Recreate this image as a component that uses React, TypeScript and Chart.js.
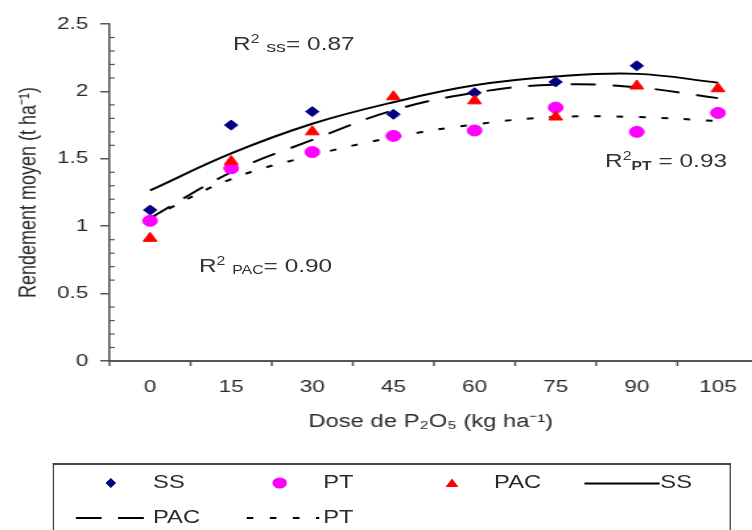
import React, { useEffect, useRef } from 'react';
import { Chart, registerables } from 'chart.js';

Chart.register(...registerables);

// ---- data ----
const DOSES = [0, 15, 30, 45, 60, 75, 90, 105];
const SS_OBS = [1.12, 1.75, 1.85, 1.83, 1.99, 2.07, 2.19, null];
const PT_OBS = [1.04, 1.43, 1.55, 1.67, 1.71, 1.88, 1.7, 1.84];
const PAC_OBS = [0.91, 1.48, 1.7, 1.96, 1.93, 1.81, 2.04, 2.02];
const SS_FIT = [1.265, 1.54, 1.76, 1.92, 2.045, 2.11, 2.13, 2.065];
const PAC_FIT = [1.06, 1.4, 1.64, 1.86, 1.99, 2.05, 2.03, 1.95];
const PT_FIT = [1.06, 1.35, 1.525, 1.66, 1.755, 1.81, 1.81, 1.78];
const X_TICKS = [0, 15, 30, 45, 60, 75, 90, 105];
const X_BOUNDS = [-7.5, 7.5, 22.5, 37.5, 52.5, 67.5, 82.5, 97.5];
const Y_TICKS = [0, 0.5, 1, 1.5, 2, 2.5];
const Y_MINOR = [0.1, 0.2, 0.3, 0.4, 0.6, 0.7, 0.8, 0.9, 1.1, 1.2, 1.3, 1.4, 1.6, 1.7, 1.8, 1.9, 2.1, 2.2, 2.3, 2.4];

const X_MIN = -7.5;
const X_MAX = 111.3;
const Y_MIN = 0;
const Y_MAX = 2.5;

// ---- layout/style ----
const INNER_W = 570;
const OUTER_W = 752;
const SX = OUTER_W / INNER_W;
const CANVAS_H = 455;
const FONT = '"Liberation Sans", Arial, sans-serif';
const AXIS = '#555';
const TEXT = '#2a2a2a';
const NAVY = '#000080';
const MAGENTA = '#FF00FF';
const RED = '#FF0000';

const pts = (vals: (number | null)[]) => DOSES.map((d, i) => ({ x: d, y: vals[i] }));

const extraTicks = {
  id: 'extraTicks',
  afterDraw(chart: any) {
    const { ctx, chartArea } = chart;
    const x = chart.scales.x;
    const y = chart.scales.y;
    ctx.save();
    ctx.strokeStyle = AXIS;
    ctx.lineWidth = 1.2;
    Y_MINOR.forEach((v) => {
      const py = y.getPixelForValue(v);
      ctx.beginPath();
      ctx.moveTo(chartArea.left, py);
      ctx.lineTo(chartArea.left + 4, py);
      ctx.stroke();
    });
    ctx.lineWidth = 1.5;
    X_BOUNDS.forEach((v) => {
      const px = x.getPixelForValue(v);
      ctx.beginPath();
      ctx.moveTo(px, chartArea.bottom);
      ctx.lineTo(px, chartArea.bottom + 5);
      ctx.stroke();
    });
    ctx.restore();
  },
};

function ChartCanvas() {
  const ref = useRef<HTMLCanvasElement | null>(null);
  useEffect(() => {
    if (!ref.current) return;
    const chart = new Chart(ref.current, {
      type: 'line',
      data: {
        datasets: [
          {
            label: 'PAC',
            data: pts(PAC_OBS),
            showLine: false,
            pointStyle: 'triangle',
            pointRadius: 6,
            pointBackgroundColor: RED,
            pointBorderColor: RED,
            pointBorderWidth: 1,
            order: 0,
          },
          {
            label: 'PT',
            data: pts(PT_OBS),
            showLine: false,
            pointStyle: 'circle',
            pointRadius: 5.5,
            pointBackgroundColor: MAGENTA,
            pointBorderColor: MAGENTA,
            pointBorderWidth: 1,
            order: 1,
          },
          {
            label: 'SS',
            data: pts(SS_OBS),
            showLine: false,
            pointStyle: 'rectRot',
            pointRadius: 5,
            pointBackgroundColor: NAVY,
            pointBorderColor: NAVY,
            pointBorderWidth: 1,
            order: 2,
          },
          {
            label: 'SS fit',
            data: pts(SS_FIT),
            borderColor: '#000',
            borderWidth: 2,
            pointRadius: 0,
            tension: 0.4,
            fill: false,
            order: 3,
          },
          {
            label: 'PAC fit',
            data: pts(PAC_FIT),
            borderColor: '#000',
            borderWidth: 2,
            borderDash: [19, 13],
            pointRadius: 0,
            tension: 0.4,
            fill: false,
            order: 4,
          },
          {
            label: 'PT fit',
            data: pts(PT_FIT),
            borderColor: '#000',
            borderWidth: 2,
            borderDash: [5, 12],
            pointRadius: 0,
            tension: 0.4,
            fill: false,
            order: 5,
          },
        ],
      },
      options: {
        responsive: false,
        animation: false,
        layout: { autoPadding: false, padding: { left: 0, right: 0, top: 24, bottom: 0 } },
        plugins: { legend: { display: false }, tooltip: { enabled: false } },
        scales: {
          x: {
            type: 'linear',
            min: X_MIN,
            max: X_MAX,
            afterBuildTicks: (s: any) => {
              s.ticks = X_TICKS.map((v) => ({ value: v }));
            },
            afterFit: (s: any) => {
              s.height = CANVAS_H - 361;
              s.paddingLeft = 0;
              s.paddingRight = 0;
            },
            grid: { drawOnChartArea: false, drawTicks: false, color: AXIS },
            border: { display: true, color: AXIS, width: 2 },
            ticks: {
              padding: 16,
              maxRotation: 0,
              autoSkip: false,
              color: TEXT,
              font: { family: FONT, size: 17 },
              callback: (v: any) => String(v),
            },
            title: {
              display: true,
              text: 'Dose de P₂O₅ (kg ha⁻¹)',
              color: TEXT,
              font: { family: FONT, size: 18 },
              padding: { top: 0, bottom: 22 },
            },
          },
          y: {
            type: 'linear',
            min: Y_MIN,
            max: Y_MAX,
            afterBuildTicks: (s: any) => {
              s.ticks = Y_TICKS.map((v) => ({ value: v }));
            },
            afterFit: (s: any) => {
              s.width = 83;
            },
            grid: { drawOnChartArea: false, drawTicks: true, tickLength: 7, color: AXIS, lineWidth: 1.5 },
            border: { display: true, color: AXIS, width: 1.6 },
            ticks: {
              padding: 9,
              color: TEXT,
              font: { family: FONT, size: 17 },
              callback: (v: any) => String(v),
            },
            title: {
              display: true,
              text: 'Rendement moyen (t ha⁻¹)',
              color: TEXT,
              font: { family: FONT, size: 18 },
              padding: { top: 11, bottom: 0 },
            },
          },
        },
      },
      plugins: [extraTicks],
    } as any);
    return () => chart.destroy();
  }, []);
  return <canvas ref={ref} width={INNER_W} height={CANVAS_H} style={{ display: 'block' }} />;
}

const abs = (left: number, top: number, extra: any = {}) => ({ position: 'absolute' as const, left, top, ...extra });

function Annot({ left, top, children }: { left: number; top: number; children: any }) {
  return (
    <div style={abs(left, top, { fontFamily: FONT, fontSize: 18.5, lineHeight: '19px', color: '#333', whiteSpace: 'nowrap' })}>
      {children}
    </div>
  );
}

const supStyle = { fontSize: 12, position: 'relative' as const, top: -7 };

function Legend() {
  const textStyle = { fontFamily: FONT, fontSize: 18, lineHeight: '18px', color: TEXT, whiteSpace: 'nowrap' as const };
  return (
    <>
      <div
        style={abs(40, 463, {
          width: 514,
          height: 90,
          borderTop: '2px solid #444',
          borderLeft: '1.5px solid #444',
          borderRight: '1.5px solid #444',
          boxSizing: 'border-box',
        })}
      />
      <svg style={abs(0, 440)} width={INNER_W} height={90}>
        <polygon points="84,38 88,43 84,48 80,43" fill={NAVY} />
        <circle cx={212} cy={43} r={5.5} fill={MAGENTA} />
        <polygon points="342.6,38.5 347.5,47 337.7,47" fill={RED} />
        <line x1={443} y1={43.5} x2={500} y2={43.5} stroke="#000" strokeWidth={2.2} />
        <line x1={57.5} y1={78} x2={115} y2={78} stroke="#000" strokeWidth={2.2} strokeDasharray="19.5 12.5" />
        <line x1={187} y1={78} x2={242} y2={78} stroke="#000" strokeWidth={2.2} strokeDasharray="5 12.5" />
      </svg>
      <div style={abs(116, 473, textStyle)}>SS</div>
      <div style={abs(245, 473, textStyle)}>PT</div>
      <div style={abs(374.5, 473, textStyle)}>PAC</div>
      <div style={abs(500.5, 473, textStyle)}>SS</div>
      <div style={abs(116, 507.5, textStyle)}>PAC</div>
      <div style={abs(245, 507.5, textStyle)}>PT</div>
    </>
  );
}

export default function App() {
  return (
    <div style={{ position: 'fixed', left: 0, top: 0, width: OUTER_W, height: 530, overflow: 'hidden', background: '#fff' }}>
      <div
        style={{
          position: 'absolute',
          left: 0,
          top: 0,
          width: INNER_W,
          height: 530,
          transform: `scaleX(${SX})`,
          transformOrigin: '0 0',
        }}
      >
        <ChartCanvas />
        <Annot left={176.6} top={34}>
          R<span style={supStyle}>2</span>{' '}
          <span style={{ fontSize: 15, position: 'relative', top: 2 }}>ss</span>= 0.87
        </Annot>
        <Annot left={150.8} top={256}>
          R<span style={supStyle}>2</span>{' '}
          <span style={{ fontSize: 12, position: 'relative', top: 2 }}>PAC</span>= 0.90
        </Annot>
        <Annot left={458.6} top={151}>
          R<span style={supStyle}>2</span>
          <span style={{ fontSize: 12, fontWeight: 'bold', position: 'relative', top: 3 }}>PT</span> = 0.93
        </Annot>
        <Legend />
      </div>
    </div>
  );
}
